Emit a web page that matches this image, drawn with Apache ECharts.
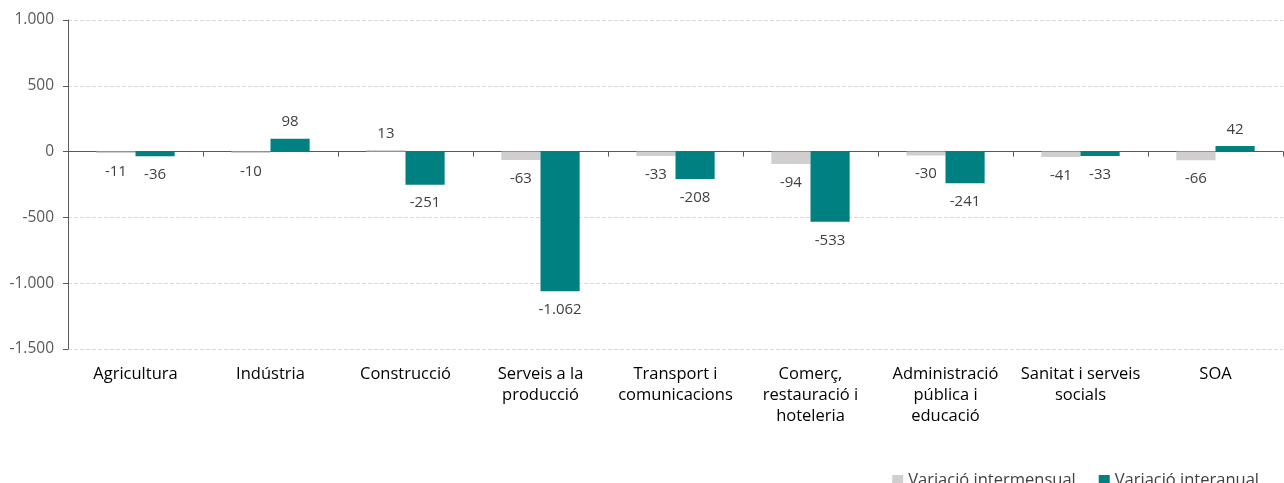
<!DOCTYPE html>
<html><head><meta charset="utf-8">
<script src="https://cdn.jsdelivr.net/npm/echarts@6/dist/echarts.min.js"></script>
<style>html,body{margin:0;padding:0;background:#fff}#c{width:1284px;height:483px}</style>
</head><body><div id="c"></div>
<script>
const categories = ["Agricultura","Indústria","Construcció","Serveis a la\nproducció","Transport i\ncomunicacions","Comerç,\nrestauració i\nhoteleria","Administració\npública i\neducació","Sanitat i serveis\nsocials","SOA"];
const intermensual = [-11,-10,13,-63,-33,-94,-30,-41,-66];
const interanual = [-36,98,-251,-1062,-208,-533,-241,-33,42];
const yTicks = {min:-1500,max:1000,interval:500};

function fmt(v){
  const s = Math.abs(v).toString().replace(/\B(?=(\d{3})+(?!\d))/g,'.');
  return (v<0?'-':'')+s;
}
const FONT = '"Open Sans", sans-serif';
function mk(vals){
  return vals.map(v=>({value:v,label:{position: v<0?'bottom':'top', distance: v<0?11:9}}));
}
const chart = echarts.init(document.getElementById('c'));
chart.setOption({
  animation:false,
  textStyle:{fontFamily:FONT},
  grid:{left:68,right:1,top:20,bottom:134,containLabel:false},
  legend:{
    top:467,right:20,itemWidth:11,itemHeight:11,itemGap:23,
    icon:'rect',
    textStyle:{fontFamily:FONT,fontSize:16.5,color:'#404040'},
    data:['Variació intermensual','Variació interanual']
  },
  xAxis:[{
    type:'category',data:categories,
    axisLine:{onZero:true,lineStyle:{color:'#595959',width:1}},
    axisTick:{show:true,length:5,lineStyle:{color:'#595959'}},
    axisLabel:{show:false}
  },{
    type:'category',data:categories,position:'bottom',
    axisLine:{show:false,onZero:false},axisTick:{show:false},
    axisLabel:{margin:15,fontFamily:FONT,fontSize:16.5,color:'#000',lineHeight:21,interval:0}
  }],
  yAxis:{
    type:'value',min:yTicks.min,max:yTicks.max,interval:yTicks.interval,
    axisLine:{show:true,lineStyle:{color:'#595959'}},
    axisTick:{show:true,length:5,lineStyle:{color:'#595959'}},
    axisLabel:{formatter:fmt,fontFamily:FONT,fontSize:15.5,color:'#595959',margin:14},
    splitLine:{show:true,lineStyle:{color:'#d9d9d9',type:'dashed'}}
  },
  series:[{
    name:'Variació intermensual',type:'bar',xAxisIndex:0,data:mk(intermensual),
    itemStyle:{color:'#d0cece'},barGap:'0%',barCategoryGap:'42%',
    label:{show:true,formatter:p=>fmt(p.value),fontFamily:FONT,fontSize:15,color:'#404040'}
  },{
    name:'Variació interanual',type:'bar',xAxisIndex:0,data:mk(interanual),
    itemStyle:{color:'#008080'},barGap:'0%',barCategoryGap:'42%',
    label:{show:true,formatter:p=>fmt(p.value),fontFamily:FONT,fontSize:15,color:'#404040'}
  }]
});
</script></body></html>
